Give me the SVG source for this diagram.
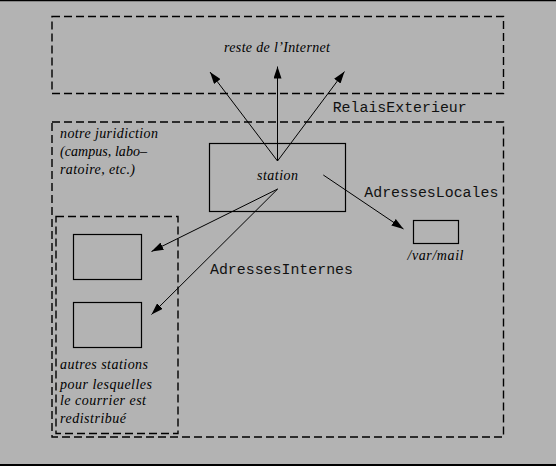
<svg xmlns="http://www.w3.org/2000/svg" width="556" height="466" viewBox="0 0 556 466">
<style>
.dash{fill:none;stroke:#000;stroke-width:1.4;stroke-dasharray:8,4}
.box{fill:none;stroke:#000;stroke-width:1.2}
.it{font-family:"Liberation Serif","DejaVu Serif",serif;font-style:italic;font-size:14px;fill:#000}
.mono{font-family:"Liberation Mono","DejaVu Sans Mono",monospace;font-size:14.9px;fill:#111}
.conn line{stroke:#000;stroke-width:1;marker-end:url(#ah)}
</style>
<defs>
<marker id="ah" markerUnits="userSpaceOnUse" markerWidth="12" markerHeight="8" viewBox="0 0 12 8" refX="12" refY="4" orient="auto">
<path d="M0,0 L12,4 L0,8 Z" fill="#000"/>
</marker>
</defs>
<rect x="0" y="0" width="556" height="466" fill="#b3b3b3"/>
<line x1="0" y1="0.5" x2="556" y2="0.5" stroke="#000" stroke-width="1.5"/>
<line x1="0" y1="465" x2="556" y2="465" stroke="#000" stroke-width="2"/>

<g id="internet">
<rect class="dash" x="52" y="16.5" width="451.5" height="77"/>
<text class="it" x="277" y="52" text-anchor="middle" textLength="106">reste de l’Internet</text>
</g>

<g id="juridiction">
<rect class="dash" x="52" y="122" width="451.5" height="315"/>
<text class="it" x="60" y="137.5" textLength="98">notre juridiction</text>
<text class="it" x="60" y="155.5" textLength="87">(campus, labo–</text>
<text class="it" x="60" y="173.5" textLength="75">ratoire, etc.)</text>
</g>

<g id="autres">
<rect class="dash" x="56" y="216.5" width="122" height="217"/>
<text class="it" x="60" y="369" textLength="88">autres stations</text>
<text class="it" x="60" y="389" textLength="92">pour lesquelles</text>
<text class="it" x="60" y="405" textLength="86">le courrier est</text>
<text class="it" x="60" y="422.5" textLength="66">redistribué</text>
</g>

<g id="station">
<rect class="box" x="209.5" y="143.5" width="136" height="68"/>
<text class="it" x="277.5" y="179.5" text-anchor="middle" textLength="41">station</text>
</g>

<g id="poste1">
<rect class="box" x="73.5" y="234.5" width="68" height="45"/>
</g>
<g id="poste2">
<rect class="box" x="73.5" y="302.5" width="68" height="45"/>
</g>

<g id="varmail">
<rect class="box" x="413.5" y="220.5" width="45" height="23"/>
<text class="it" x="435.5" y="260" text-anchor="middle" textLength="56">/var/mail</text>
</g>

<g id="connectors" class="conn">
<line x1="277.5" y1="161" x2="210" y2="72"/>
<line x1="277.5" y1="161" x2="277.5" y2="66.5"/>
<line x1="277.5" y1="161" x2="344.5" y2="71.5"/>
<line x1="277.7" y1="189" x2="151.5" y2="251.5"/>
<line x1="277.7" y1="189" x2="151.5" y2="314.5"/>
<line x1="323.3" y1="175" x2="403.5" y2="229"/>
</g>

<g id="labels">
<text class="mono" x="332.7" y="111.7">RelaisExterieur</text>
<text class="mono" x="364.3" y="197.3">AdressesLocales</text>
<text class="mono" x="210" y="274.3">AdressesInternes</text>
</g>
</svg>
